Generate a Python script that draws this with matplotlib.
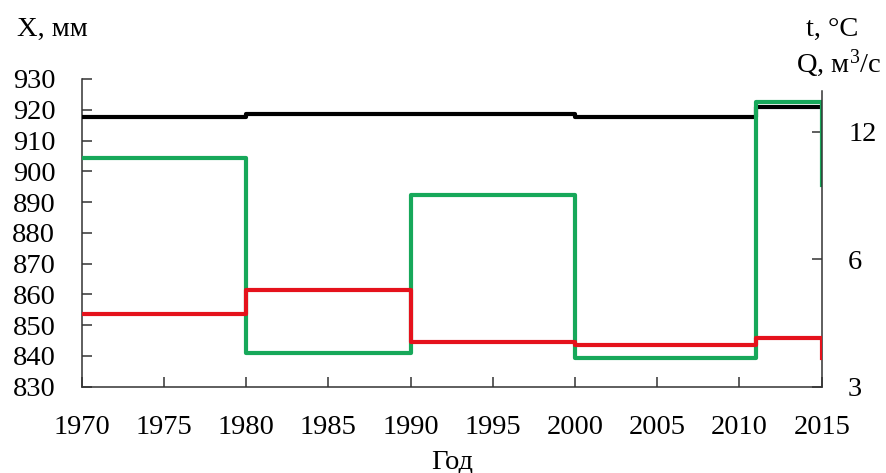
import matplotlib
matplotlib.use("Agg")
import matplotlib.pyplot as plt
from matplotlib.ticker import FixedLocator, NullLocator, FixedFormatter

plt.rcParams["font.family"] = ["Liberation Serif", "DejaVu Serif"]
plt.rcParams["mathtext.fontset"] = "custom"
plt.rcParams["mathtext.rm"] = "Liberation Serif"
plt.rcParams["mathtext.it"] = "Liberation Serif:italic"

# period boundaries (years); the last value of each series is the 2015 endpoint
edges = [1970, 1980, 1990, 2000, 2011, 2015]

# precipitation X, mm (left axis)
x_mm = [917.5, 918.5, 918.6, 917.8, 920.8, 920.8]
# air temperature t, °C (right axis, log)
t_c = [4.45, 5.07, 3.82, 3.76, 3.92, 3.50]
# river discharge Q, m3/s (right axis, log)
q_m3s = [10.4, 3.6, 8.5, 3.5, 14.1, 9.0]

year_ticks = list(range(1970, 2016, 5))
x_ticks = list(range(830, 931, 10))
right_ticks = [3, 6, 12]

FS = 20.5
fig = plt.figure(figsize=(8.87, 4.73), dpi=100)
ax = fig.add_axes([0.0921, 0.1824, 0.8343, 0.6506])
ax2 = ax.twinx()

ax.step(edges, x_mm, where="post", color="black", lw=3.0, zorder=3)
ax2.step(edges, q_m3s, where="post", color="#17a85a", lw=3.0, zorder=2)
ax2.step(edges, t_c, where="post", color="#e5121c", lw=3.0, zorder=3)

ax.set_xlim(1970, 2015)
ax.set_ylim(830, 930)
ax2.set_yscale("log")
ax2.set_ylim(3, 16)

ax.set_xticks(year_ticks)
ax.set_yticks(x_ticks)
ax2.yaxis.set_major_locator(FixedLocator(right_ticks))
ax2.yaxis.set_major_formatter(FixedFormatter([str(v) for v in right_ticks]))
ax2.yaxis.set_minor_locator(NullLocator())

for a in (ax, ax2):
    for s in a.spines.values():
        s.set_color("#333333")
        s.set_linewidth(1.1)
    a.spines["top"].set_visible(False)

ax.spines["right"].set_visible(False)
ax2.spines["left"].set_visible(False)
ax2.spines["bottom"].set_visible(False)
ax2.spines["right"].set_bounds(3, 15)

ax.tick_params(axis="both", direction="in", length=7, width=1.1, color="#333333",
               labelsize=FS)
ax.tick_params(axis="y", pad=19)
ax.tick_params(axis="x", pad=20)
ax2.tick_params(axis="y", direction="in", length=7, width=1.1, color="#333333",
                labelsize=FS, pad=19)

ax.set_xlabel("Год", fontsize=FS, labelpad=7)

fig.text(0.019, 0.937, "X, мм", fontsize=FS, va="center", ha="left")
fig.text(0.938, 0.937, "t, °C", fontsize=FS, va="center", ha="center")
fig.text(0.946, 0.866, "Q, м$^{3}$/с", fontsize=FS, va="center", ha="center")

fig.savefig("out.png", dpi=100)
